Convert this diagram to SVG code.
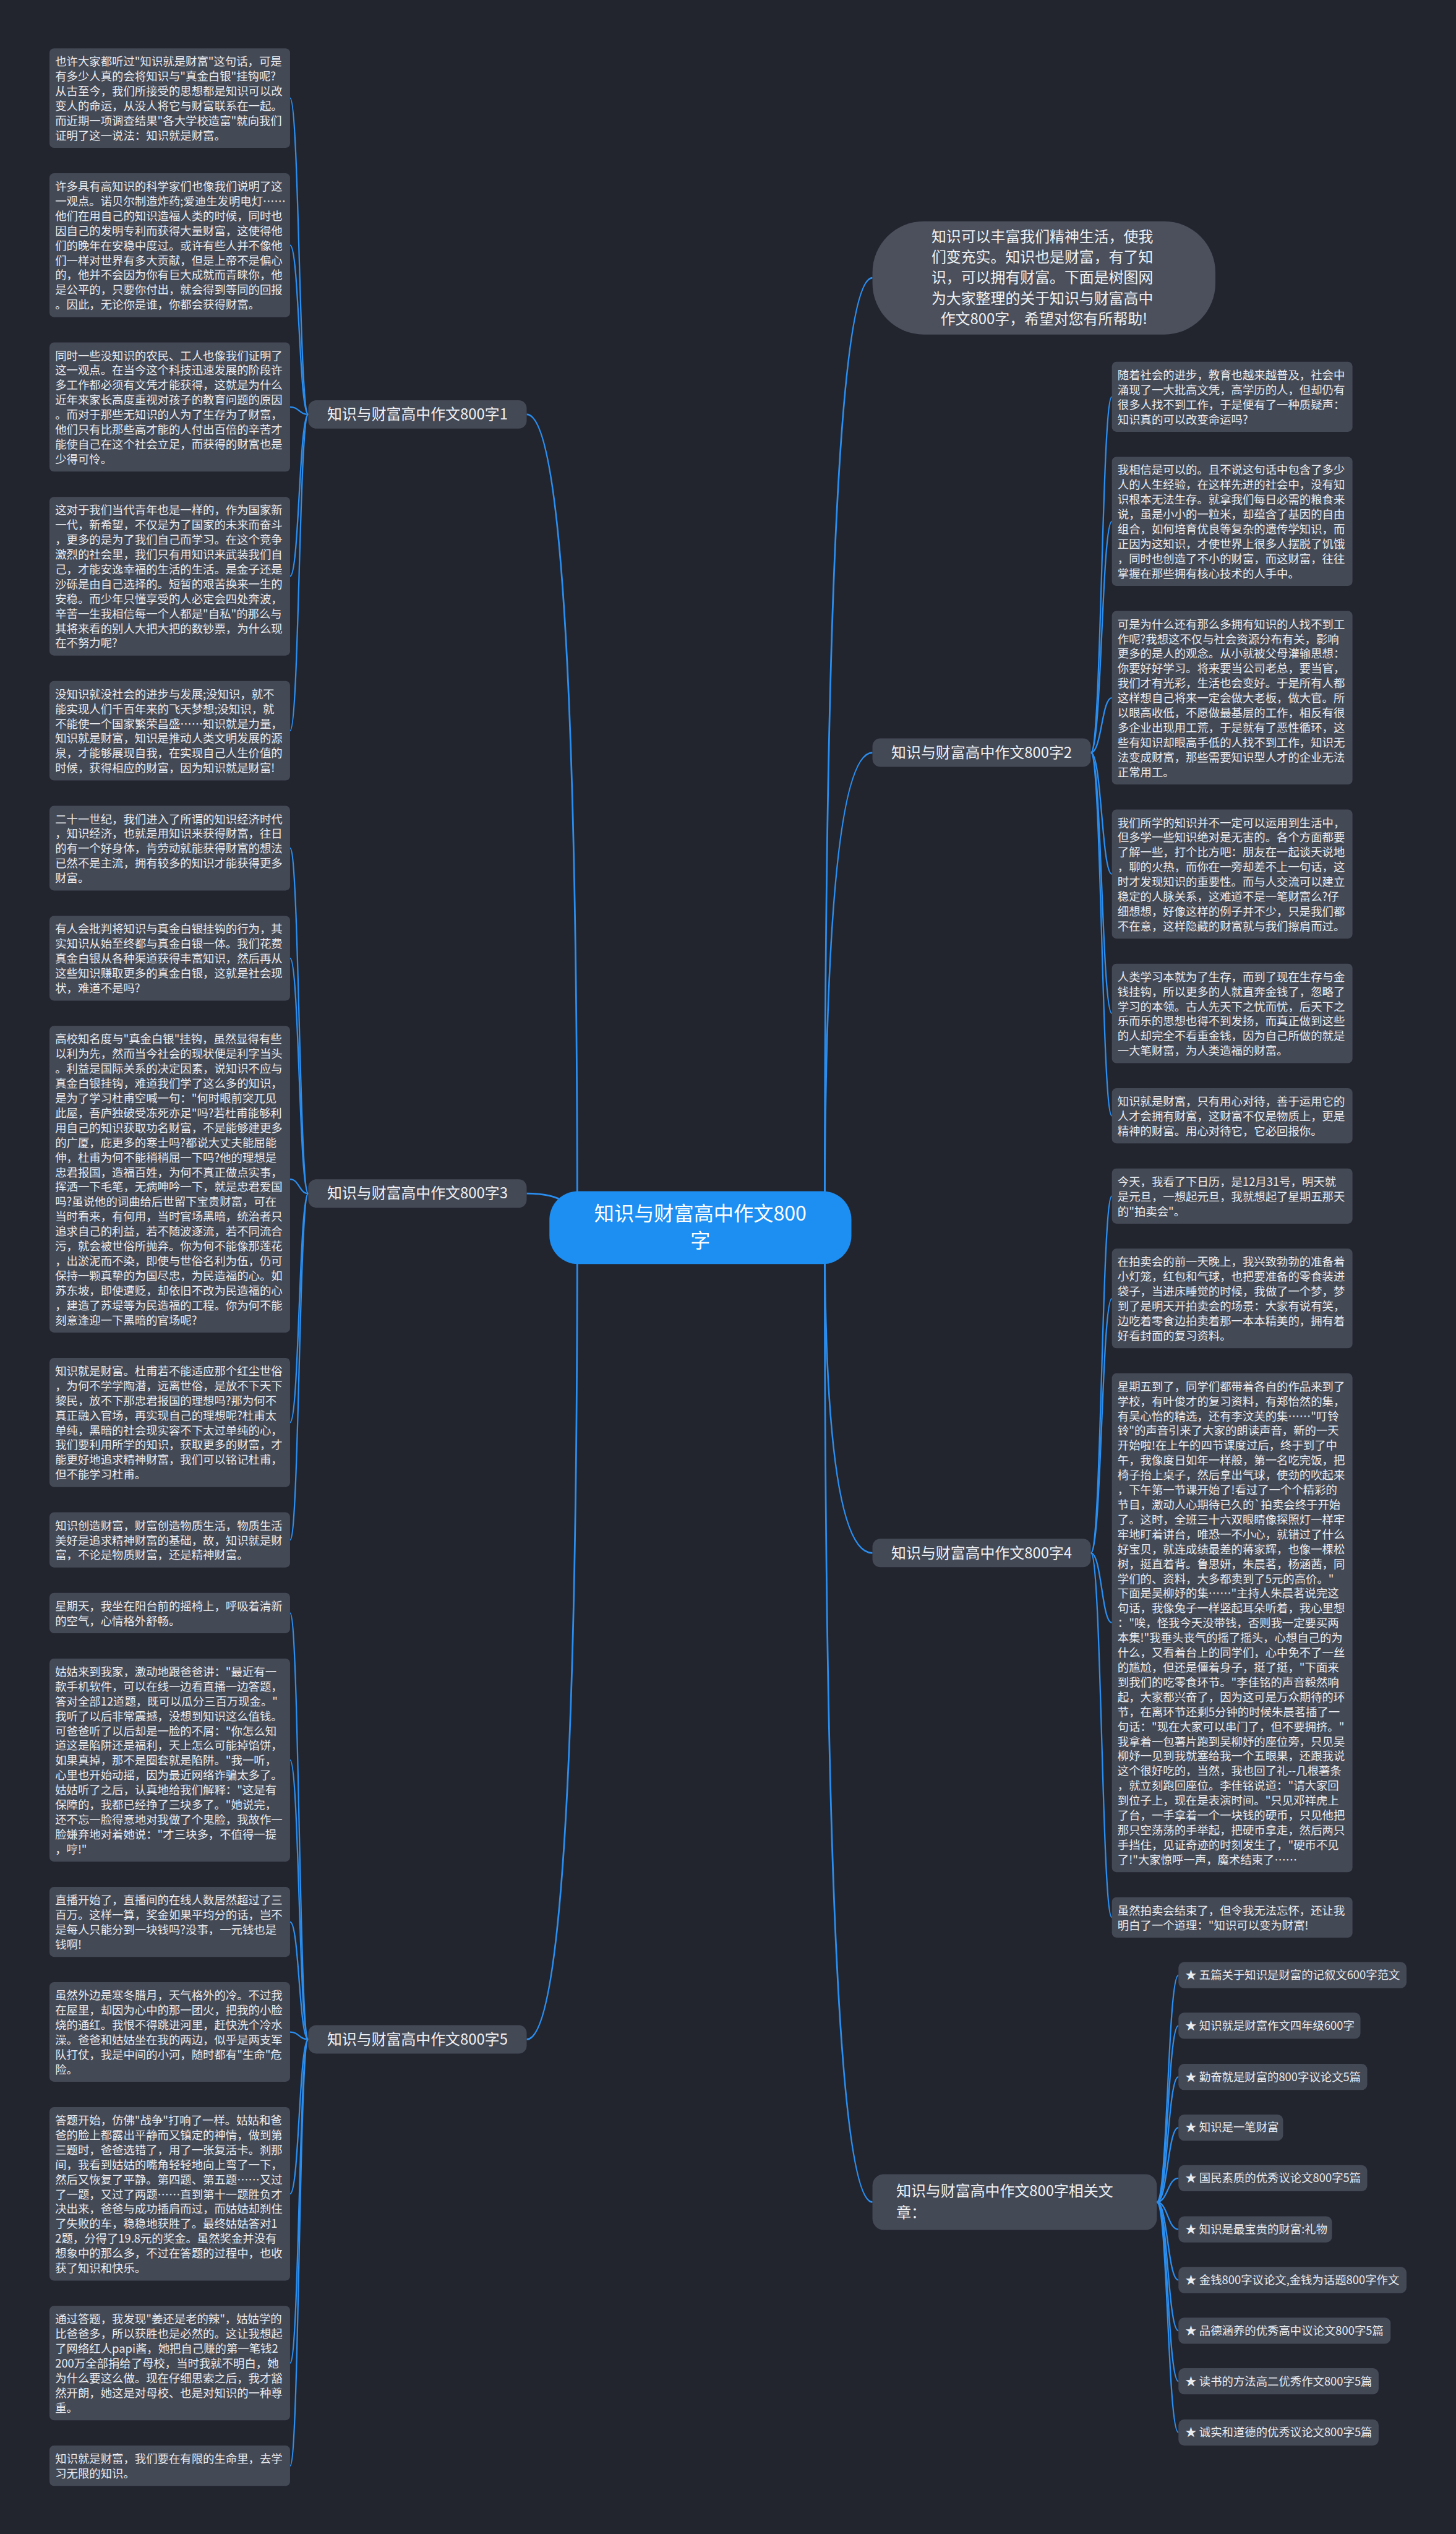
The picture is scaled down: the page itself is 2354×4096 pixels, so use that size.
<svg xmlns="http://www.w3.org/2000/svg" width="2354" height="4096" viewBox="0 0 2354 4096">
<style>
.bg{fill:#22252e}
.box{fill:#444956}
.t{font-family:"Noto Sans CJK SC","Noto Sans",sans-serif;font-size:20px;fill:#e9ebee}
.br{fill:#444956}
.bt{font-family:"Noto Sans CJK SC","Noto Sans",sans-serif;font-size:26px;fill:#eef0f3}
.ct{font-family:"Noto Sans CJK SC","Noto Sans",sans-serif;font-size:35px;fill:#ffffff}
.c1{fill:none;stroke:#2a8ef0;stroke-width:3}
.c2{fill:none;stroke:#2a8ef0;stroke-width:2.5}
</style>
<rect class="bg" x="0" y="0" width="2354" height="4096"/>
<g transform="scale(0.91953)">
<g id="connectors">
<path class="c1" d="M1015,2158 Q1015,728.5 926,728.5"/>
<path class="c1" d="M1015,2158 Q1015,2098 926,2098"/>
<path class="c1" d="M1015,2158 Q1015,3585 926,3585"/>
<path class="c1" d="M1450,2158 Q1450,488.5 1534,488.5"/>
<path class="c1" d="M1450,2158 Q1450,1323 1534,1323"/>
<path class="c1" d="M1450,2158 Q1450,2730 1534,2730"/>
<path class="c1" d="M1450,2158 Q1450,3871 1534,3871"/>
<path class="c2" d="M542,728.5 C526,728.5 526,172.5 510,172.5"/>
<path class="c2" d="M542,728.5 C526,728.5 526,431 510,431"/>
<path class="c2" d="M542,728.5 C526,728.5 526,715.5 510,715.5"/>
<path class="c2" d="M542,728.5 C526,728.5 526,1013 510,1013"/>
<path class="c2" d="M542,728.5 C526,728.5 526,1284.5 510,1284.5"/>
<path class="c2" d="M542,2098 C526,2098 526,1491 510,1491"/>
<path class="c2" d="M542,2098 C526,2098 526,1684.5 510,1684.5"/>
<path class="c2" d="M542,2098 C526,2098 526,2073 510,2073"/>
<path class="c2" d="M542,2098 C526,2098 526,2500.5 510,2500.5"/>
<path class="c2" d="M542,2098 C526,2098 526,2707 510,2707"/>
<path class="c2" d="M542,3585 C526,3585 526,2835.5 510,2835.5"/>
<path class="c2" d="M542,3585 C526,3585 526,3094 510,3094"/>
<path class="c2" d="M542,3585 C526,3585 526,3378.5 510,3378.5"/>
<path class="c2" d="M542,3585 C526,3585 526,3572 510,3572"/>
<path class="c2" d="M542,3585 C526,3585 526,3856.5 510,3856.5"/>
<path class="c2" d="M542,3585 C526,3585 526,4154 510,4154"/>
<path class="c2" d="M542,3585 C526,3585 526,4334.5 510,4334.5"/>
<path class="c2" d="M1918,1323 C1937,1323 1937,697.5 1955,697.5"/>
<path class="c2" d="M1918,1323 C1937,1323 1937,916.5 1955,916.5"/>
<path class="c2" d="M1918,1323 C1937,1323 1937,1226.5 1955,1226.5"/>
<path class="c2" d="M1918,1323 C1937,1323 1937,1536.5 1955,1536.5"/>
<path class="c2" d="M1918,1323 C1937,1323 1937,1781.5 1955,1781.5"/>
<path class="c2" d="M1918,1323 C1937,1323 1937,1961.5 1955,1961.5"/>
<path class="c2" d="M1918,2730 C1937,2730 1937,2102.5 1955,2102.5"/>
<path class="c2" d="M1918,2730 C1937,2730 1937,2282.5 1955,2282.5"/>
<path class="c2" d="M1918,2730 C1937,2730 1937,2852.5 1955,2852.5"/>
<path class="c2" d="M1918,2730 C1937,2730 1937,3370.5 1955,3370.5"/>
<path class="c2" d="M2034,3871 C2053,3871 2053,3472 2072,3472"/>
<path class="c2" d="M2034,3871 C2053,3871 2053,3561 2072,3561"/>
<path class="c2" d="M2034,3871 C2053,3871 2053,3651 2072,3651"/>
<path class="c2" d="M2034,3871 C2053,3871 2053,3740 2072,3740"/>
<path class="c2" d="M2034,3871 C2053,3871 2053,3829 2072,3829"/>
<path class="c2" d="M2034,3871 C2053,3871 2053,3919 2072,3919"/>
<path class="c2" d="M2034,3871 C2053,3871 2053,4008 2072,4008"/>
<path class="c2" d="M2034,3871 C2053,3871 2053,4097 2072,4097"/>
<path class="c2" d="M2034,3871 C2053,3871 2053,4186 2072,4186"/>
<path class="c2" d="M2034,3871 C2053,3871 2053,4276 2072,4276"/>
</g>

<g id="center">
<rect x="966" y="2094" width="531" height="128" rx="50" fill="#1d8ef2"/>
<text class="ct" x="1231.5" y="2146" text-anchor="middle">知识与财富高中作文800</text>
<text class="ct" x="1231.5" y="2194" text-anchor="middle">字</text>
</g>

<g id="intro">
<rect x="1534" y="389" width="603" height="199" rx="90" fill="#4b505c"/>
<text class="bt" text-anchor="middle">
<tspan x="1835.5" y="425.5">知识可以丰富我们精神生活，使我</tspan>
<tspan x="1835.5" y="461.5">们变充实。知识也是财富，有了知</tspan>
<tspan x="1835.5" y="497.5">识，可以拥有财富。下面是树图网</tspan>
<tspan x="1835.5" y="533.5">为大家整理的关于知识与财富高中</tspan>
<tspan x="1835.5" y="569.5">作文800字，希望对您有所帮助!</tspan>
</text>
</g>

<g id="branch1">
<rect class="br" x="542" y="703.5" width="384" height="50" rx="14"/>
<text class="bt" x="734" y="737.5" text-anchor="middle">知识与财富高中作文800字1</text>
</g>
<g id="branch2">
<rect class="br" x="1534" y="1298" width="384" height="50" rx="14"/>
<text class="bt" x="1726" y="1332" text-anchor="middle">知识与财富高中作文800字2</text>
</g>
<g id="branch3">
<rect class="br" x="542" y="2073" width="384" height="50" rx="14"/>
<text class="bt" x="734" y="2107" text-anchor="middle">知识与财富高中作文800字3</text>
</g>
<g id="branch4">
<rect class="br" x="1534" y="2705" width="384" height="50" rx="14"/>
<text class="bt" x="1726" y="2739" text-anchor="middle">知识与财富高中作文800字4</text>
</g>
<g id="branch5">
<rect class="br" x="542" y="3560" width="384" height="50" rx="14"/>
<text class="bt" x="734" y="3594" text-anchor="middle">知识与财富高中作文800字5</text>
</g>
<g id="branch6">
<rect class="br" x="1534" y="3822" width="500" height="98" rx="20"/>
<text class="bt"><tspan x="1576" y="3861">知识与财富高中作文800字相关文</tspan><tspan x="1576" y="3899">章：</tspan></text>
</g>

<g id="L1"><rect class="box" x="87" y="85" width="423" height="175" rx="8"/>
<text class="t"><tspan x="97" y="115.5">也许大家都听过"知识就是财富"这句话，可是</tspan><tspan x="97" dy="26">有多少人真的会将知识与"真金白银"挂钩呢?</tspan><tspan x="97" dy="26">从古至今，我们所接受的思想都是知识可以改</tspan><tspan x="97" dy="26">变人的命运，从没人将它与财富联系在一起。</tspan><tspan x="97" dy="26">而近期一项调查结果"各大学校造富"就向我们</tspan><tspan x="97" dy="26">证明了这一说法：知识就是财富。</tspan></text></g>

<g id="L2"><rect class="box" x="87" y="304.5" width="423" height="253" rx="8"/>
<text class="t"><tspan x="97" y="335">许多具有高知识的科学家们也像我们说明了这</tspan><tspan x="97" dy="26">一观点。诺贝尔制造炸药;爱迪生发明电灯……</tspan><tspan x="97" dy="26">他们在用自己的知识造福人类的时候，同时也</tspan><tspan x="97" dy="26">因自己的发明专利而获得大量财富，这使得他</tspan><tspan x="97" dy="26">们的晚年在安稳中度过。或许有些人并不像他</tspan><tspan x="97" dy="26">们一样对世界有多大贡献，但是上帝不是偏心</tspan><tspan x="97" dy="26">的，他并不会因为你有巨大成就而青睐你，他</tspan><tspan x="97" dy="26">是公平的，只要你付出，就会得到等同的回报</tspan><tspan x="97" dy="26">。因此，无论你是谁，你都会获得财富。</tspan></text></g>

<g id="L3"><rect class="box" x="87" y="602" width="423" height="227" rx="8"/>
<text class="t"><tspan x="97" y="632.5">同时一些没知识的农民、工人也像我们证明了</tspan><tspan x="97" dy="26">这一观点。在当今这个科技迅速发展的阶段许</tspan><tspan x="97" dy="26">多工作都必须有文凭才能获得，这就是为什么</tspan><tspan x="97" dy="26">近年来家长高度重视对孩子的教育问题的原因</tspan><tspan x="97" dy="26">。而对于那些无知识的人为了生存为了财富，</tspan><tspan x="97" dy="26">他们只有比那些高才能的人付出百倍的辛苦才</tspan><tspan x="97" dy="26">能使自己在这个社会立足，而获得的财富也是</tspan><tspan x="97" dy="26">少得可怜。</tspan></text></g>

<g id="L4"><rect class="box" x="87" y="873.5" width="423" height="279" rx="8"/>
<text class="t"><tspan x="97" y="904">这对于我们当代青年也是一样的，作为国家新</tspan><tspan x="97" dy="26">一代，新希望，不仅是为了国家的未来而奋斗</tspan><tspan x="97" dy="26">，更多的是为了我们自己而学习。在这个竞争</tspan><tspan x="97" dy="26">激烈的社会里，我们只有用知识来武装我们自</tspan><tspan x="97" dy="26">己，才能安逸幸福的生活的生活。是金子还是</tspan><tspan x="97" dy="26">沙砾是由自己选择的。短暂的艰苦换来一生的</tspan><tspan x="97" dy="26">安稳。而少年只懂享受的人必定会四处奔波，</tspan><tspan x="97" dy="26">辛苦一生我相信每一个人都是"自私"的那么与</tspan><tspan x="97" dy="26">其将来看的别人大把大把的数钞票，为什么现</tspan><tspan x="97" dy="26">在不努力呢?</tspan></text></g>

<g id="L5"><rect class="box" x="87" y="1197" width="423" height="175" rx="8"/>
<text class="t"><tspan x="97" y="1227.5">没知识就没社会的进步与发展;没知识，就不</tspan><tspan x="97" dy="26">能实现人们千百年来的飞天梦想;没知识，就</tspan><tspan x="97" dy="26">不能使一个国家繁荣昌盛……知识就是力量，</tspan><tspan x="97" dy="26">知识就是财富，知识是推动人类文明发展的源</tspan><tspan x="97" dy="26">泉，才能够展现自我，在实现自己人生价值的</tspan><tspan x="97" dy="26">时候，获得相应的财富，因为知识就是财富!</tspan></text></g>

<g id="L6"><rect class="box" x="87" y="1416.5" width="423" height="149" rx="8"/>
<text class="t"><tspan x="97" y="1447">二十一世纪，我们进入了所谓的知识经济时代</tspan><tspan x="97" dy="26">，知识经济，也就是用知识来获得财富，往日</tspan><tspan x="97" dy="26">的有一个好身体，肯劳动就能获得财富的想法</tspan><tspan x="97" dy="26">已然不是主流，拥有较多的知识才能获得更多</tspan><tspan x="97" dy="26">财富。</tspan></text></g>

<g id="L7"><rect class="box" x="87" y="1610" width="423" height="149" rx="8"/>
<text class="t"><tspan x="97" y="1640.5">有人会批判将知识与真金白银挂钩的行为，其</tspan><tspan x="97" dy="26">实知识从始至终都与真金白银一体。我们花费</tspan><tspan x="97" dy="26">真金白银从各种渠道获得丰富知识，然后再从</tspan><tspan x="97" dy="26">这些知识赚取更多的真金白银，这就是社会现</tspan><tspan x="97" dy="26">状，难道不是吗?</tspan></text></g>

<g id="L8"><rect class="box" x="87" y="1803.5" width="423" height="539" rx="8"/>
<text class="t"><tspan x="97" y="1834">高校知名度与"真金白银"挂钩，虽然显得有些</tspan><tspan x="97" dy="26">以利为先，然而当今社会的现状便是利字当头</tspan><tspan x="97" dy="26">。利益是国际关系的决定因素，说知识不应与</tspan><tspan x="97" dy="26">真金白银挂钩，难道我们学了这么多的知识，</tspan><tspan x="97" dy="26">是为了学习杜甫空喊一句："何时眼前突兀见</tspan><tspan x="97" dy="26">此屋，吾庐独破受冻死亦足"吗?若杜甫能够利</tspan><tspan x="97" dy="26">用自己的知识获取功名财富，不是能够建更多</tspan><tspan x="97" dy="26">的广厦，庇更多的寒士吗?都说大丈夫能屈能</tspan><tspan x="97" dy="26">伸，杜甫为何不能稍稍屈一下吗?他的理想是</tspan><tspan x="97" dy="26">忠君报国，造福百姓，为何不真正做点实事，</tspan><tspan x="97" dy="26">挥洒一下毛笔，无病呻吟一下，就是忠君爱国</tspan><tspan x="97" dy="26">吗?虽说他的词曲给后世留下宝贵财富，可在</tspan><tspan x="97" dy="26">当时看来，有何用，当时官场黑暗，统治者只</tspan><tspan x="97" dy="26">追求自己的利益，若不随波逐流，若不同流合</tspan><tspan x="97" dy="26">污，就会被世俗所抛弃。你为何不能像那莲花</tspan><tspan x="97" dy="26">，出淤泥而不染，即使与世俗名利为伍，仍可</tspan><tspan x="97" dy="26">保持一颗真挚的为国尽忠，为民造福的心。如</tspan><tspan x="97" dy="26">苏东坡，即使遭贬，却依旧不改为民造福的心</tspan><tspan x="97" dy="26">，建造了苏堤等为民造福的工程。你为何不能</tspan><tspan x="97" dy="26">刻意逢迎一下黑暗的官场呢?</tspan></text></g>

<g id="L9"><rect class="box" x="87" y="2387" width="423" height="227" rx="8"/>
<text class="t"><tspan x="97" y="2417.5">知识就是财富。杜甫若不能适应那个红尘世俗</tspan><tspan x="97" dy="26">，为何不学学陶潜，远离世俗，是放不下天下</tspan><tspan x="97" dy="26">黎民，放不下那忠君报国的理想吗?那为何不</tspan><tspan x="97" dy="26">真正融入官场，再实现自己的理想呢?杜甫太</tspan><tspan x="97" dy="26">单纯，黑暗的社会现实容不下太过单纯的心，</tspan><tspan x="97" dy="26">我们要利用所学的知识，获取更多的财富，才</tspan><tspan x="97" dy="26">能更好地追求精神财富，我们可以铭记杜甫，</tspan><tspan x="97" dy="26">但不能学习杜甫。</tspan></text></g>

<g id="L10"><rect class="box" x="87" y="2658.5" width="423" height="97" rx="8"/>
<text class="t"><tspan x="97" y="2689">知识创造财富，财富创造物质生活，物质生活</tspan><tspan x="97" dy="26">美好是追求精神财富的基础，故，知识就是财</tspan><tspan x="97" dy="26">富，不论是物质财富，还是精神财富。</tspan></text></g>

<g id="L11"><rect class="box" x="87" y="2800" width="423" height="71" rx="8"/>
<text class="t"><tspan x="97" y="2830.5">星期天，我坐在阳台前的摇椅上，呼吸着清新</tspan><tspan x="97" dy="26">的空气，心情格外舒畅。</tspan></text></g>

<g id="L12"><rect class="box" x="87" y="2915.5" width="423" height="357" rx="8"/>
<text class="t"><tspan x="97" y="2946">姑姑来到我家，激动地跟爸爸讲："最近有一</tspan><tspan x="97" dy="26">款手机软件，可以在线一边看直播一边答题，</tspan><tspan x="97" dy="26">答对全部12道题，既可以瓜分三百万现金。"</tspan><tspan x="97" dy="26">我听了以后非常震撼，没想到知识这么值钱。</tspan><tspan x="97" dy="26">可爸爸听了以后却是一脸的不屑："你怎么知</tspan><tspan x="97" dy="26">道这是陷阱还是福利，天上怎么可能掉馅饼，</tspan><tspan x="97" dy="26">如果真掉，那不是圈套就是陷阱。"我一听，</tspan><tspan x="97" dy="26">心里也开始动摇，因为最近网络诈骗太多了。</tspan><tspan x="97" dy="26">姑姑听了之后，认真地给我们解释："这是有</tspan><tspan x="97" dy="26">保障的，我都已经挣了三块多了。"她说完，</tspan><tspan x="97" dy="26">还不忘一脸得意地对我做了个鬼脸，我故作一</tspan><tspan x="97" dy="26">脸嫌弃地对着她说："才三块多，不值得一提</tspan><tspan x="97" dy="26">，哼!"</tspan></text></g>

<g id="L13"><rect class="box" x="87" y="3317" width="423" height="123" rx="8"/>
<text class="t"><tspan x="97" y="3347.5">直播开始了，直播间的在线人数居然超过了三</tspan><tspan x="97" dy="26">百万。这样一算，奖金如果平均分的话，岂不</tspan><tspan x="97" dy="26">是每人只能分到一块钱吗?没事，一元钱也是</tspan><tspan x="97" dy="26">钱啊!</tspan></text></g>

<g id="L14"><rect class="box" x="87" y="3484.5" width="423" height="175" rx="8"/>
<text class="t"><tspan x="97" y="3515">虽然外边是寒冬腊月，天气格外的冷。不过我</tspan><tspan x="97" dy="26">在屋里，却因为心中的那一团火，把我的小脸</tspan><tspan x="97" dy="26">烧的通红。我恨不得跳进河里，赶快洗个冷水</tspan><tspan x="97" dy="26">澡。爸爸和姑姑坐在我的两边，似乎是两支军</tspan><tspan x="97" dy="26">队打仗，我是中间的小河，随时都有"生命"危</tspan><tspan x="97" dy="26">险。</tspan></text></g>

<g id="L15"><rect class="box" x="87" y="3704" width="423" height="305" rx="8"/>
<text class="t"><tspan x="97" y="3734.5">答题开始，仿佛"战争"打响了一样。姑姑和爸</tspan><tspan x="97" dy="26">爸的脸上都露出平静而又镇定的神情，做到第</tspan><tspan x="97" dy="26">三题时，爸爸选错了，用了一张复活卡。刹那</tspan><tspan x="97" dy="26">间，我看到姑姑的嘴角轻轻地向上弯了一下，</tspan><tspan x="97" dy="26">然后又恢复了平静。第四题、第五题……又过</tspan><tspan x="97" dy="26">了一题，又过了两题……直到第十一题胜负才</tspan><tspan x="97" dy="26">决出来，爸爸与成功插肩而过，而姑姑却刹住</tspan><tspan x="97" dy="26">了失败的车，稳稳地获胜了。最终姑姑答对1</tspan><tspan x="97" dy="26">2题，分得了19.8元的奖金。虽然奖金并没有</tspan><tspan x="97" dy="26">想象中的那么多，不过在答题的过程中，也收</tspan><tspan x="97" dy="26">获了知识和快乐。</tspan></text></g>

<g id="L16"><rect class="box" x="87" y="4053.5" width="423" height="201" rx="8"/>
<text class="t"><tspan x="97" y="4084">通过答题，我发现"姜还是老的辣"，姑姑学的</tspan><tspan x="97" dy="26">比爸爸多，所以获胜也是必然的。这让我想起</tspan><tspan x="97" dy="26">了网络红人papi酱，她把自己赚的第一笔钱2</tspan><tspan x="97" dy="26">200万全部捐给了母校，当时我就不明白，她</tspan><tspan x="97" dy="26">为什么要这么做。现在仔细思索之后，我才豁</tspan><tspan x="97" dy="26">然开朗，她这是对母校、也是对知识的一种尊</tspan><tspan x="97" dy="26">重。</tspan></text></g>

<g id="L17"><rect class="box" x="87" y="4299" width="423" height="71" rx="8"/>
<text class="t"><tspan x="97" y="4329.5">知识就是财富，我们要在有限的生命里，去学</tspan><tspan x="97" dy="26">习无限的知识。</tspan></text></g>

<g id="R1"><rect class="box" x="1955" y="636" width="423" height="123" rx="8"/>
<text class="t"><tspan x="1965" y="666.5">随着社会的进步，教育也越来越普及，社会中</tspan><tspan x="1965" dy="26">涌现了一大批高文凭，高学历的人，但却仍有</tspan><tspan x="1965" dy="26">很多人找不到工作，于是便有了一种质疑声：</tspan><tspan x="1965" dy="26">知识真的可以改变命运吗?</tspan></text></g>

<g id="R2"><rect class="box" x="1955" y="803" width="423" height="227" rx="8"/>
<text class="t"><tspan x="1965" y="833.5">我相信是可以的。且不说这句话中包含了多少</tspan><tspan x="1965" dy="26">人的人生经验，在这样先进的社会中，没有知</tspan><tspan x="1965" dy="26">识根本无法生存。就拿我们每日必需的粮食来</tspan><tspan x="1965" dy="26">说，虽是小小的一粒米，却蕴含了基因的自由</tspan><tspan x="1965" dy="26">组合，如何培育优良等复杂的遗传学知识，而</tspan><tspan x="1965" dy="26">正因为这知识，才使世界上很多人摆脱了饥饿</tspan><tspan x="1965" dy="26">，同时也创造了不小的财富，而这财富，往往</tspan><tspan x="1965" dy="26">掌握在那些拥有核心技术的人手中。</tspan></text></g>

<g id="R3"><rect class="box" x="1955" y="1074" width="423" height="305" rx="8"/>
<text class="t"><tspan x="1965" y="1104.5">可是为什么还有那么多拥有知识的人找不到工</tspan><tspan x="1965" dy="26">作呢?我想这不仅与社会资源分布有关，影响</tspan><tspan x="1965" dy="26">更多的是人的观念。从小就被父母灌输思想：</tspan><tspan x="1965" dy="26">你要好好学习。将来要当公司老总，要当官，</tspan><tspan x="1965" dy="26">我们才有光彩，生活也会变好。于是所有人都</tspan><tspan x="1965" dy="26">这样想自己将来一定会做大老板，做大官。所</tspan><tspan x="1965" dy="26">以眼高收低，不愿做最基层的工作，相反有很</tspan><tspan x="1965" dy="26">多企业出现用工荒，于是就有了恶性循环，这</tspan><tspan x="1965" dy="26">些有知识却眼高手低的人找不到工作，知识无</tspan><tspan x="1965" dy="26">法变成财富，那些需要知识型人才的企业无法</tspan><tspan x="1965" dy="26">正常用工。</tspan></text></g>

<g id="R4"><rect class="box" x="1955" y="1423" width="423" height="227" rx="8"/>
<text class="t"><tspan x="1965" y="1453.5">我们所学的知识并不一定可以运用到生活中，</tspan><tspan x="1965" dy="26">但多学一些知识绝对是无害的。各个方面都要</tspan><tspan x="1965" dy="26">了解一些，打个比方吧：朋友在一起谈天说地</tspan><tspan x="1965" dy="26">，聊的火热，而你在一旁却差不上一句话，这</tspan><tspan x="1965" dy="26">时才发现知识的重要性。而与人交流可以建立</tspan><tspan x="1965" dy="26">稳定的人脉关系，这难道不是一笔财富么?仔</tspan><tspan x="1965" dy="26">细想想，好像这样的例子并不少，只是我们都</tspan><tspan x="1965" dy="26">不在意，这样隐藏的财富就与我们擦肩而过。</tspan></text></g>

<g id="R5"><rect class="box" x="1955" y="1694" width="423" height="175" rx="8"/>
<text class="t"><tspan x="1965" y="1724.5">人类学习本就为了生存，而到了现在生存与金</tspan><tspan x="1965" dy="26">钱挂钩，所以更多的人就直奔金钱了，忽略了</tspan><tspan x="1965" dy="26">学习的本领。古人先天下之忧而忧，后天下之</tspan><tspan x="1965" dy="26">乐而乐的思想也得不到发扬，而真正做到这些</tspan><tspan x="1965" dy="26">的人却完全不看重金钱，因为自己所做的就是</tspan><tspan x="1965" dy="26">一大笔财富，为人类造福的财富。</tspan></text></g>

<g id="R6"><rect class="box" x="1955" y="1913" width="423" height="97" rx="8"/>
<text class="t"><tspan x="1965" y="1943.5">知识就是财富，只有用心对待，善于运用它的</tspan><tspan x="1965" dy="26">人才会拥有财富，这财富不仅是物质上，更是</tspan><tspan x="1965" dy="26">精神的财富。用心对待它，它必回报你。</tspan></text></g>

<g id="R7"><rect class="box" x="1955" y="2054" width="423" height="97" rx="8"/>
<text class="t"><tspan x="1965" y="2084.5">今天，我看了下日历，是12月31号，明天就</tspan><tspan x="1965" dy="26">是元旦，一想起元旦，我就想起了星期五那天</tspan><tspan x="1965" dy="26">的"拍卖会"。</tspan></text></g>

<g id="R8"><rect class="box" x="1955" y="2195" width="423" height="175" rx="8"/>
<text class="t"><tspan x="1965" y="2225.5">在拍卖会的前一天晚上，我兴致勃勃的准备着</tspan><tspan x="1965" dy="26">小灯笼，红包和气球，也把要准备的零食装进</tspan><tspan x="1965" dy="26">袋子，当进床睡觉的时候，我做了一个梦，梦</tspan><tspan x="1965" dy="26">到了是明天开拍卖会的场景：大家有说有笑，</tspan><tspan x="1965" dy="26">边吃着零食边拍卖着那一本本精美的，拥有着</tspan><tspan x="1965" dy="26">好看封面的复习资料。</tspan></text></g>

<g id="R9"><rect class="box" x="1955" y="2414" width="423" height="877" rx="8"/>
<text class="t"><tspan x="1965" y="2444.5">星期五到了，同学们都带着各自的作品来到了</tspan><tspan x="1965" dy="26">学校，有叶俊才的复习资料，有郑怡然的集，</tspan><tspan x="1965" dy="26">有吴心怡的精选，还有李汶芙的集……"叮铃</tspan><tspan x="1965" dy="26">铃"的声音引来了大家的朗读声音，新的一天</tspan><tspan x="1965" dy="26">开始啦!在上午的四节课度过后，终于到了中</tspan><tspan x="1965" dy="26">午，我像度日如年一样般，第一名吃完饭，把</tspan><tspan x="1965" dy="26">椅子抬上桌子，然后拿出气球，使劲的吹起来</tspan><tspan x="1965" dy="26">，下午第一节课开始了!看过了一个个精彩的</tspan><tspan x="1965" dy="26">节目，激动人心期待已久的`拍卖会终于开始</tspan><tspan x="1965" dy="26">了。这时，全班三十六双眼睛像探照灯一样牢</tspan><tspan x="1965" dy="26">牢地盯着讲台，唯恐一不小心，就错过了什么</tspan><tspan x="1965" dy="26">好宝贝，就连成绩最差的蒋家辉，也像一棵松</tspan><tspan x="1965" dy="26">树，挺直着背。鲁思妍，朱晨茗，杨涵茜，同</tspan><tspan x="1965" dy="26">学们的、资料，大多都卖到了5元的高价。"</tspan><tspan x="1965" dy="26">下面是吴柳妤的集……"主持人朱晨茗说完这</tspan><tspan x="1965" dy="26">句话，我像兔子一样竖起耳朵听着，我心里想</tspan><tspan x="1965" dy="26">："唉，怪我今天没带钱，否则我一定要买两</tspan><tspan x="1965" dy="26">本集!"我垂头丧气的摇了摇头，心想自己的为</tspan><tspan x="1965" dy="26">什么，又看着台上的同学们，心中免不了一丝</tspan><tspan x="1965" dy="26">的尴尬，但还是僵着身子，挺了挺，"下面来</tspan><tspan x="1965" dy="26">到我们的吃零食环节。"李佳铭的声音毅然响</tspan><tspan x="1965" dy="26">起，大家都兴奋了，因为这可是万众期待的环</tspan><tspan x="1965" dy="26">节，在离环节还剩5分钟的时候朱晨茗插了一</tspan><tspan x="1965" dy="26">句话："现在大家可以串门了，但不要拥挤。"</tspan><tspan x="1965" dy="26">我拿着一包薯片跑到吴柳妤的座位旁，只见吴</tspan><tspan x="1965" dy="26">柳妤一见到我就塞给我一个五眼果，还跟我说</tspan><tspan x="1965" dy="26">这个很好吃的，当然，我也回了礼--几根薯条</tspan><tspan x="1965" dy="26">，就立刻跑回座位。李佳铭说道："请大家回</tspan><tspan x="1965" dy="26">到位子上，现在是表演时间。"只见邓祥虎上</tspan><tspan x="1965" dy="26">了台，一手拿着一个一块钱的硬币，只见他把</tspan><tspan x="1965" dy="26">那只空荡荡的手举起，把硬币拿走，然后两只</tspan><tspan x="1965" dy="26">手挡住，见证奇迹的时刻发生了，"硬币不见</tspan><tspan x="1965" dy="26">了!"大家惊呼一声，魔术结束了……</tspan></text></g>

<g id="R10"><rect class="box" x="1955" y="3335" width="423" height="71" rx="8"/>
<text class="t"><tspan x="1965" y="3365.5">虽然拍卖会结束了，但令我无法忘怀，还让我</tspan><tspan x="1965" dy="26">明白了一个道理："知识可以变为财富!</tspan></text></g>

<g id="link1"><rect class="box" x="2072" y="3449" width="401" height="46" rx="10"/><text class="t" x="2084" y="3479">★ 五篇关于知识是财富的记叙文600字范文</text></g>
<g id="link2"><rect class="box" x="2072" y="3538" width="320" height="46" rx="10"/><text class="t" x="2084" y="3568">★ 知识就是财富作文四年级600字</text></g>
<g id="link3"><rect class="box" x="2072" y="3628" width="332" height="46" rx="10"/><text class="t" x="2084" y="3658">★ 勤奋就是财富的800字议论文5篇</text></g>
<g id="link4"><rect class="box" x="2072" y="3717" width="184" height="46" rx="10"/><text class="t" x="2084" y="3747">★ 知识是一笔财富</text></g>
<g id="link5"><rect class="box" x="2072" y="3806" width="332" height="46" rx="10"/><text class="t" x="2084" y="3836">★ 国民素质的优秀议论文800字5篇</text></g>
<g id="link6"><rect class="box" x="2072" y="3896" width="270" height="46" rx="10"/><text class="t" x="2084" y="3926">★ 知识是最宝贵的财富:礼物</text></g>
<g id="link7"><rect class="box" x="2072" y="3985" width="401" height="46" rx="10"/><text class="t" x="2084" y="4015">★ 金钱800字议论文,金钱为话题800字作文</text></g>
<g id="link8"><rect class="box" x="2072" y="4074" width="373" height="46" rx="10"/><text class="t" x="2084" y="4104">★ 品德涵养的优秀高中议论文800字5篇</text></g>
<g id="link9"><rect class="box" x="2072" y="4163" width="352" height="46" rx="10"/><text class="t" x="2084" y="4193">★ 读书的方法高二优秀作文800字5篇</text></g>
<g id="link10"><rect class="box" x="2072" y="4253" width="352" height="46" rx="10"/><text class="t" x="2084" y="4283">★ 诚实和道德的优秀议论文800字5篇</text></g>
</g>
</svg>
